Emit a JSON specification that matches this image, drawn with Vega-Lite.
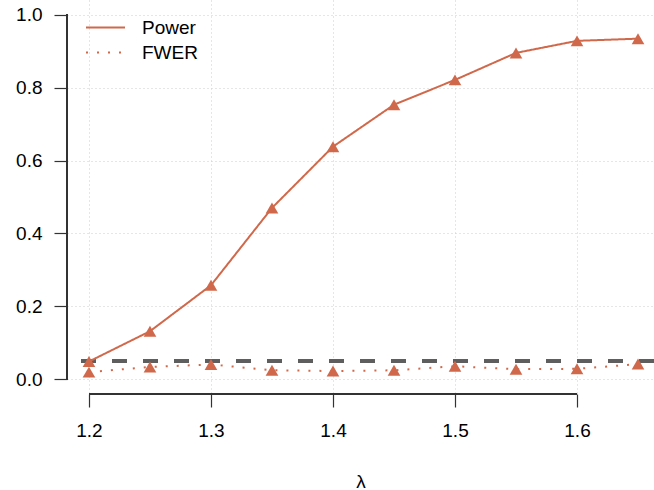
{
  "$schema": "https://vega.github.io/schema/vega-lite/v6.json",
  "autosize": {"type": "none"},
  "padding": {"left": 67, "top": 0, "right": 0, "bottom": 96},
  "width": 587,
  "height": 394,
  "config": {
    "view": {"stroke": null},
    "font": "Liberation Sans",
    "axis": {"labelFont": "Liberation Sans", "titleFont": "Liberation Sans"}
  },
  "data": {
    "values": [
      {"lambda": 1.2, "series": "Power", "value": 0.049},
      {"lambda": 1.25, "series": "Power", "value": 0.132},
      {"lambda": 1.3, "series": "Power", "value": 0.258},
      {"lambda": 1.35, "series": "Power", "value": 0.47},
      {"lambda": 1.4, "series": "Power", "value": 0.638},
      {"lambda": 1.45, "series": "Power", "value": 0.753},
      {"lambda": 1.5, "series": "Power", "value": 0.821},
      {"lambda": 1.55, "series": "Power", "value": 0.895},
      {"lambda": 1.6, "series": "Power", "value": 0.928},
      {"lambda": 1.65, "series": "Power", "value": 0.934},
      {"lambda": 1.2, "series": "FWER", "value": 0.02},
      {"lambda": 1.25, "series": "FWER", "value": 0.034},
      {"lambda": 1.3, "series": "FWER", "value": 0.041},
      {"lambda": 1.35, "series": "FWER", "value": 0.025},
      {"lambda": 1.4, "series": "FWER", "value": 0.023},
      {"lambda": 1.45, "series": "FWER", "value": 0.025},
      {"lambda": 1.5, "series": "FWER", "value": 0.036},
      {"lambda": 1.55, "series": "FWER", "value": 0.028},
      {"lambda": 1.6, "series": "FWER", "value": 0.029},
      {"lambda": 1.65, "series": "FWER", "value": 0.042}
    ]
  },
  "layer": [
    {
      "mark": {"type": "rule", "color": "#5e5e5e", "strokeWidth": 3.5, "strokeDash": [15, 16]},
      "encoding": {"y": {"datum": 0.05, "type": "quantitative", "scale": {"domain": [-0.04, 1.04]}}}
    },
    {
      "mark": {"type": "rule", "color": "#333333", "strokeWidth": 1.2},
      "encoding": {
        "x": {"datum": 1.182, "type": "quantitative"},
        "y": {"datum": 0, "type": "quantitative"},
        "y2": {"datum": 1}
      }
    },
    {
      "mark": {"type": "rule", "color": "#333333", "strokeWidth": 1.2},
      "encoding": {
        "y": {"datum": -0.04, "type": "quantitative"},
        "x": {"datum": 1.2, "type": "quantitative"},
        "x2": {"datum": 1.6}
      }
    },
    {
      "mark": {"type": "line", "stroke": "#D0694B", "strokeWidth": 2},
      "encoding": {
        "x": {
          "field": "lambda", "type": "quantitative",
          "scale": {"domain": [1.182, 1.6631], "nice": false, "zero": false},
          "axis": {
            "values": [1.2, 1.3, 1.4, 1.5, 1.6], "format": ".1f",
            "domain": false, "tickSize": 13, "tickColor": "#333333", "tickWidth": 1.2,
            "labelFontSize": 19, "labelColor": "#000000", "labelPadding": 14,
            "grid": true, "gridDash": [1, 3], "gridColor": "#cccccc", "gridWidth": 1,
            "title": "λ", "titleFontSize": 19, "titleFontWeight": "normal", "titleColor": "#000000", "titlePadding": 32
          }
        },
        "y": {
          "field": "value", "type": "quantitative",
          "scale": {"domain": [-0.04, 1.04], "nice": false, "zero": false},
          "axis": {
            "values": [0, 0.2, 0.4, 0.6, 0.8, 1.0], "format": ".1f",
            "domain": false, "tickSize": 13, "tickColor": "#333333", "tickWidth": 1.2,
            "labelFontSize": 19, "labelColor": "#000000", "labelPadding": 12,
            "grid": true, "gridDash": [1, 3], "gridColor": "#cccccc", "gridWidth": 1,
            "title": null
          }
        },
        "strokeDash": {
          "field": "series", "type": "nominal",
          "scale": {"domain": ["Power", "FWER"], "range": [[1, 0], [2, 9]]},
          "legend": {
            "title": null, "orient": "none", "legendX": 18, "legendY": 15,
            "symbolType": "stroke", "symbolSize": 1521, "symbolStrokeColor": "#D0694B",
            "symbolStrokeWidth": 2, "labelFontSize": 19, "labelColor": "#000000",
            "labelOffset": 16, "rowPadding": 0, "clipHeight": 25, "padding": 0
          }
        }
      }
    },
    {
      "mark": {"type": "point", "shape": "triangle-up", "filled": true, "color": "#D0694B", "size": 160, "opacity": 1},
      "encoding": {
        "x": {"field": "lambda", "type": "quantitative"},
        "y": {"field": "value", "type": "quantitative"}
      }
    }
  ]
}
